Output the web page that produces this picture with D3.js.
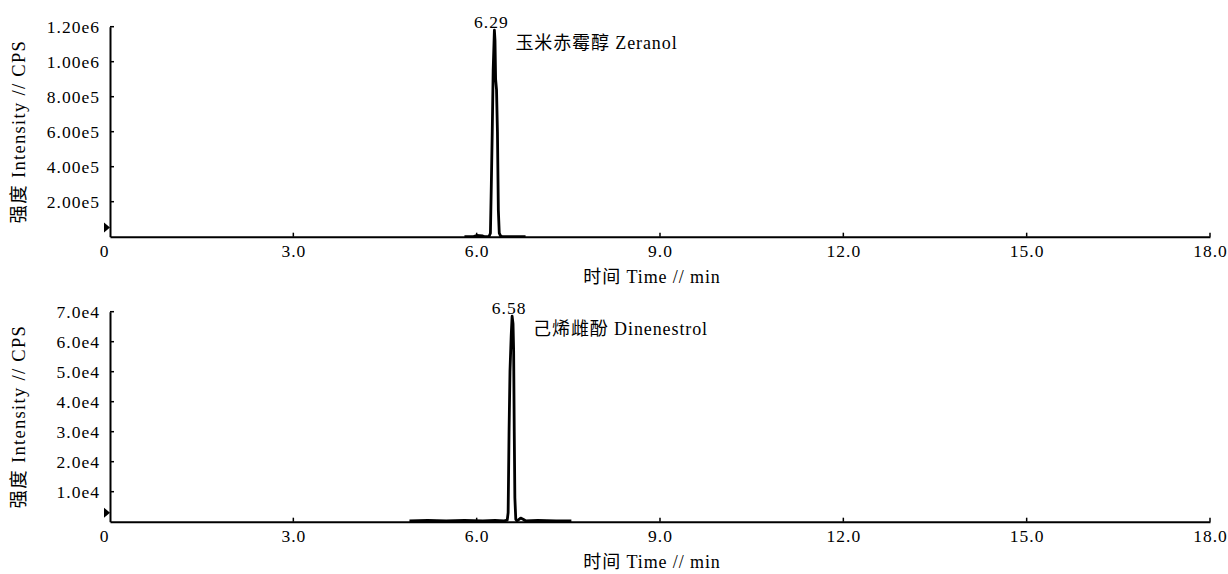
<!DOCTYPE html>
<html>
<head>
<meta charset="utf-8">
<script src="https://cdn.jsdelivr.net/npm/d3@7"></script>
<style>
  html, body { margin: 0; padding: 0; background: #fff; }
  svg { display: block; }
</style>
</head>
<body>
<svg id="chart" width="1228" height="574"></svg>
<script>
// ---------- data ----------
const xTickValues = [0, 3, 6, 9, 12, 15, 18];
const xTickLabels = ["0", "3.0", "6.0", "9.0", "12.0", "15.0", "18.0"];

const topYTickValues = [200000, 400000, 600000, 800000, 1000000, 1200000];
const topYTickLabels = ["2.00e5", "4.00e5", "6.00e5", "8.00e5", "1.00e6", "1.20e6"];

const bottomYTickValues = [10000, 20000, 30000, 40000, 50000, 60000, 70000];
const bottomYTickLabels = ["1.0e4", "2.0e4", "3.0e4", "4.0e4", "5.0e4", "6.0e4", "7.0e4"];

// Zeranol chromatogram (time in min, intensity in cps)
const zeranolTime =      [5.80, 5.95, 6.00, 6.05, 6.10, 6.13, 6.20, 6.225, 6.24,  6.255,  6.27,   6.29,    6.30,    6.31,   6.325,  6.34,   6.355,  6.37,  6.39, 6.42, 6.50, 6.80];
const zeranolIntensity = [0,    500,  7000, 6000, 4000, 0,    0,    20000, 300000, 600000, 950000, 1180000, 1120000, 900000, 840000, 600000, 150000, 20000, 5000, 0,    0,    0];

// Dinenestrol chromatogram
const dinenestrolTime =      [4.90, 5.20, 5.50, 5.80, 6.10, 6.30, 6.45, 6.50, 6.515, 6.53,  6.545, 6.565, 6.58,  6.595, 6.605, 6.615, 6.625, 6.64, 6.66, 6.72, 6.76, 6.80, 7.00, 7.30, 7.55];
const dinenestrolIntensity = [300,  400,  300,  400,  300,  400,  300,  500,  3000,  30000, 50000, 62000, 68500, 66000, 57000, 30000, 8000,  800,  300,  1200, 800,  300,  400,  300,  300];

const panelPeakTimes = [6.29, 6.58];
const panelPeakLabels = ["6.29", "6.58"];
const panelCompoundNames = ["玉米赤霉醇 Zeranol", "己烯雌酚 Dinenestrol"];
const panelMarkerValues = [52000, 3000];

const yAxisTitle = "强度 Intensity // CPS";
const xAxisTitle = "时间 Time // min";

// ---------- layout ----------
const FONT = "'Liberation Serif', 'Noto Sans CJK SC', serif";
const svg = d3.select("#chart");
const xLeft = 110, xRight = 1210;

function styleText(sel, size, ls) {
  return sel.style("font-family", FONT)
    .style("font-size", size + "px")
    .style("letter-spacing", ls + "px")
    .style("fill", "#000");
}

const panels = [
  { time: zeranolTime, inten: zeranolIntensity, yTicks: topYTickValues, yLabels: topYTickLabels,
    yMax: 1200000, top: 26.7, bottom: 236.7, peakTime: panelPeakTimes[0], peakLabel: panelPeakLabels[0],
    name: panelCompoundNames[0], marker: panelMarkerValues[0] },
  { time: dinenestrolTime, inten: dinenestrolIntensity, yTicks: bottomYTickValues, yLabels: bottomYTickLabels,
    yMax: 70000, top: 311.7, bottom: 521.7, peakTime: panelPeakTimes[1], peakLabel: panelPeakLabels[1],
    name: panelCompoundNames[1], marker: panelMarkerValues[1] }
];

const x = d3.scaleLinear().domain([0, 18]).range([xLeft, xRight]);

panels.forEach((p) => {
  const y = d3.scaleLinear().domain([0, p.yMax]).range([p.bottom, p.top]);
  const g = svg.append("g");

  // data trace
  const pts = p.time.map((t, i) => [t, p.inten[i]]);
  const line = d3.line().x(d => x(d[0])).y(d => y(d[1]));
  g.append("path")
    .datum(pts)
    .attr("d", line)
    .attr("fill", "none")
    .attr("stroke", "#000")
    .attr("stroke-width", 2.8)
    .attr("stroke-linejoin", "round");

  // x axis
  const xAxis = d3.axisBottom(x).tickValues(xTickValues).tickSize(0).tickFormat((d, i) => xTickLabels[i]);
  const gx = g.append("g").attr("transform", `translate(0,${p.bottom})`).call(xAxis);
  gx.select(".domain").attr("stroke", "#000").attr("stroke-width", 2);
  styleText(gx.selectAll(".tick text"), 17.5, 1)
    .attr("dy", null)
    .attr("y", 20)
    .attr("dx", (d) => d === 0 ? -6 : 0);
  // inward x ticks
  g.selectAll(".xin").data(xTickValues.filter(d => d > 0)).enter().append("line")
    .attr("x1", d => x(d)).attr("x2", d => x(d))
    .attr("y1", p.bottom).attr("y2", p.bottom - 4)
    .attr("stroke", "#000").attr("stroke-width", 1.5);

  // y axis
  const yAxis = d3.axisLeft(y).tickValues(p.yTicks).tickSize(0).tickPadding(10).tickFormat((d, i) => p.yLabels[i]);
  const gy = g.append("g").attr("transform", `translate(${xLeft},0)`).call(yAxis);
  gy.select(".domain").attr("stroke", "#000").attr("stroke-width", 2);
  styleText(gy.selectAll(".tick text"), 17.5, 1).attr("dy", "0.33em");
  // inward y ticks
  g.selectAll(".yin").data(p.yTicks).enter().append("line")
    .attr("x1", xLeft).attr("x2", xLeft + 4)
    .attr("y1", d => y(d)).attr("y2", d => y(d))
    .attr("stroke", "#000").attr("stroke-width", 1.5);

  // threshold marker triangle
  const my = y(p.marker);
  g.append("path")
    .attr("d", `M${xLeft - 6},${my - 5}L${xLeft},${my}L${xLeft - 6},${my + 5}Z`)
    .attr("fill", "#000");

  // peak label
  styleText(g.append("text"), 17.5, 1)
    .attr("x", x(p.peakTime) - 3)
    .attr("y", y(d3.max(p.inten)) - 2)
    .attr("text-anchor", "middle")
    .text(p.peakLabel);

  // compound name
  styleText(g.append("text"), 18, 0.9)
    .attr("x", x(p.peakTime) + 21)
    .attr("y", y(d3.max(p.inten)) + 19)
    .text(p.name);

  // x axis title
  styleText(g.append("text"), 18, 0.9)
    .attr("x", (xLeft + xRight) / 2 - 8)
    .attr("y", p.bottom + 46)
    .attr("text-anchor", "middle")
    .text(xAxisTitle);

  // y axis title
  const cy = (p.top + p.bottom) / 2;
  styleText(g.append("text"), 18.5, 1.3)
    .attr("transform", `translate(25,${cy}) rotate(-90)`)
    .attr("text-anchor", "middle")
    .text(yAxisTitle);
});
</script>
</body>
</html>
